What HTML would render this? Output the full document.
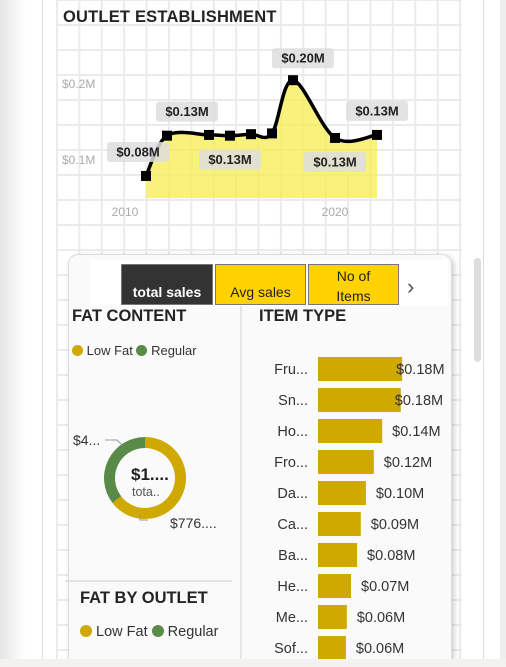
<!DOCTYPE html>
<html><head><meta charset="utf-8"><style>
html,body{margin:0;width:506px;height:667px;overflow:hidden}
body{background:#fff;font-family:"Liberation Sans",sans-serif;position:relative}
.abs{position:absolute}
.grid{left:56px;top:0;width:406px;height:667px;background-image:linear-gradient(#ebebeb 2px,transparent 2px),linear-gradient(90deg,#ebebeb 2px,transparent 2px);background-size:22.4px 25px;background-position:0 24px,0 0}
.btn{top:264px;height:41px;font-size:14px;text-align:center;box-sizing:border-box;border:1px solid #777}
</style></head><body>
<div class="abs" style="left:0;top:0;width:26px;height:667px;background:linear-gradient(90deg,#e6e6e6,#fff)"></div>
<div class="abs" style="left:42px;top:0;width:1px;height:667px;background:#ddd"></div>
<div class="abs" style="left:483px;top:0;width:1px;height:667px;background:#ddd"></div>
<div class="abs" style="left:500px;top:0;width:6px;height:667px;background:#eee"></div>
<div class="abs grid"></div>
<div class="abs" style="left:63px;top:8px;font-size:16.5px;font-weight:600;color:#252423;letter-spacing:0.2px">OUTLET ESTABLISHMENT</div>
<svg class="abs" id="line" style="left:0;top:0" width="506" height="250"></svg>

<div class="abs" style="left:474px;top:258px;width:7px;height:104px;border-radius:4px;background:#ddd"></div>

<div class="abs" style="left:68px;top:254px;width:382px;height:430px;background:#fafafa;border:1px solid #ddd;border-radius:10px;box-shadow:2px 2px 6px rgba(0,0,0,.2)"></div>
<div class="abs" style="left:90px;top:260px;width:358px;height:46px;background:#fff"></div>
<div class="abs btn" style="left:121px;width:92px;background:#333;color:#fff;font-weight:600;padding-top:19px">total sales</div>
<div class="abs btn" style="left:215px;width:91px;background:#ffd200;color:#222;padding-top:19px">Avg sales</div>
<div class="abs btn" style="left:308px;width:91px;background:#ffd200;color:#222;padding-top:1px;line-height:20px;overflow:hidden">No of<br>Items</div>
<div class="abs" style="left:407px;top:274px;font-size:22px;color:#555">&#x203A;</div>
<div class="abs" style="left:240px;top:306px;width:2px;height:361px;background:#e6e6e6"></div>
<div class="abs" style="left:65px;top:580px;width:167px;height:2px;background:#e2e2e2"></div>

<div class="abs" style="left:72px;top:307px;font-size:16.5px;font-weight:600;color:#252423">FAT CONTENT</div>
<div class="abs" style="left:72px;top:343px;font-size:13px;color:#333"><span style="display:inline-block;width:11px;height:11px;border-radius:50%;background:#d0a900;vertical-align:-1px"></span> Low Fat <span style="display:inline-block;width:11px;height:11px;border-radius:50%;background:#5a8a47;vertical-align:-1px"></span> Regular</div>
<svg class="abs" id="donut" style="left:60px;top:420px" width="180" height="120"></svg>

<div class="abs" style="left:80px;top:589px;font-size:16.5px;font-weight:600;color:#252423">FAT BY OUTLET</div>
<div class="abs" style="left:80px;top:624px;font-size:14.5px;color:#333"><span style="display:inline-block;width:12px;height:12px;border-radius:50%;background:#d0a900;vertical-align:-1px"></span> Low Fat <span style="display:inline-block;width:12px;height:12px;border-radius:50%;background:#5a8a47;vertical-align:-1px"></span> Regular</div>

<div class="abs" style="left:259px;top:307px;font-size:16.5px;font-weight:600;color:#252423">ITEM TYPE</div>
<svg class="abs" id="bars" style="left:240px;top:340px" width="215" height="327"></svg>
<div class="abs" style="left:0;top:659px;width:506px;height:8px;background:#f3f2f1"></div>

<script>
const years=[2011,2012,2014,2015,2016,2017,2018,2020,2022];
const sales=[0.079,0.132,0.133,0.132,0.134,0.135,0.205,0.129,0.133];
const labelIdx=[0,1,3,6,7,8];
const labelText=["$0.08M","$0.13M","$0.13M","$0.20M","$0.13M","$0.13M"];
const yTicks=[0.1,0.2];
const xTicks=[2010,2020];

const itemTypes=["Fru...","Sn...","Ho...","Fro...","Da...","Ca...","Ba...","He...","Me...","Sof..."];
const itemSales=[0.181,0.178,0.138,0.120,0.103,0.092,0.084,0.071,0.062,0.060];
const itemLabels=["$0.18M","$0.18M","$0.14M","$0.12M","$0.10M","$0.09M","$0.08M","$0.07M","$0.06M","$0.06M"];

const fatCats=["Low Fat","Regular"];
const fatSales=[0.776,0.425];

const NS="http://www.w3.org/2000/svg";
function mk(p,t,a){const e=document.createElementNS(NS,t);for(const k in a)e.setAttribute(k,a[k]);p.appendChild(e);return e;}

const L=document.getElementById('line');
const xs=y=>146+(y-2011)*21, ys=v=>236-v*760;
const base=198;
xTicks.forEach(t=>{const e=mk(L,'text',{x:xs(t),y:216,'text-anchor':'middle','font-size':12,fill:'#aaa'});e.textContent=t;

});
yTicks.forEach(t=>{const e=mk(L,'text',{x:62,y:ys(t)+4,'font-size':12,fill:'#aaa'});e.textContent='$'+t+'M';

});
const P=years.map((y,i)=>[xs(y),ys(sales[i])]);
let d='M'+P[0].join(',');
for(let i=0;i<P.length-1;i++){const p0=P[i-1]||P[i],p1=P[i],p2=P[i+1],p3=P[i+2]||p2;
const c1=[p1[0]+(p2[0]-p0[0])/6,p1[1]+(p2[1]-p0[1])/6],c2=[p2[0]-(p3[0]-p1[0])/6,p2[1]-(p3[1]-p1[1])/6];
d+=` C${c1} ${c2} ${p2}`;}
const area=mk(L,'path',{d:d+` L${P[P.length-1][0]},${base} L${P[0][0]},${base} Z`,fill:'rgba(245,238,80,0.75)'});


const line=mk(L,'path',{d:d,fill:'none',stroke:'#000','stroke-width':3.5});


P.forEach(p=>{const r=mk(L,'rect',{x:p[0]-5,y:p[1]-5,width:10,height:10,fill:'#000'});

});
const offs=[[-8,-24],[20,-24],[0,24],[10,-22],[0,24],[0,-24]];
labelIdx.forEach((i,k)=>{const x=P[i][0]+offs[k][0],y=P[i][1]+offs[k][1];
const g=mk(L,'g',{});


mk(g,'rect',{x:x-31,y:y-10,width:62,height:20,rx:3,fill:'rgba(222,222,222,0.85)'});
const t=mk(g,'text',{x:x,y:y+4.5,'text-anchor':'middle','font-size':13,'font-weight':600,fill:'#222'});t.textContent=labelText[k];});

const B=document.getElementById('bars');
const bx=v=>v*465;
itemTypes.forEach((c,i)=>{const cy=29+i*31;
const t=mk(B,'text',{x:68,y:cy+5,'text-anchor':'end','font-size':14.5,fill:'#333'});t.textContent=c;


const r=mk(B,'rect',{x:78,y:cy-12,width:bx(itemSales[i]),height:24,fill:'#cfa800'});


const v=mk(B,'text',{x:78+bx(itemSales[i])+(i<2?-6:10),y:cy+5,'font-size':14.5,fill:'#333'});v.textContent=itemLabels[i];

});

const D=document.getElementById('donut');
const cx=85,cy=58,ro=41,ri=30,tot=fatSales[0]+fatSales[1];
const cols=['#d0a900','#5a8a47'];let a0=0;
fatSales.forEach((v,i)=>{const a1=a0+v/tot*2*Math.PI;
const pt=(r,a)=>[cx+r*Math.sin(a),cy-r*Math.cos(a)];const lg=(a1-a0)>Math.PI?1:0;
const [x1,y1]=pt(ro,a0),[x2,y2]=pt(ro,a1),[x3,y3]=pt(ri,a1),[x4,y4]=pt(ri,a0);
const s=mk(D,'path',{d:`M${x1},${y1} A${ro},${ro} 0 ${lg} 1 ${x2},${y2} L${x3},${y3} A${ri},${ri} 0 ${lg} 0 ${x4},${y4}Z`,fill:cols[i]});


a0=a1;});
mk(D,'path',{d:'M45,20 L57,20 L62,25',fill:'none',stroke:'#999'});
mk(D,'path',{d:'M80,95 L80,100 L88,100',fill:'none',stroke:'#999'});
[['$4...',13,25,14,'#333',400],['$776....',110,108,14,'#333',400],['$1....',71,60,17,'#222',700],['tota..',72,76,12.5,'#555',400]].forEach(a=>{const t=mk(D,'text',{x:a[1],y:a[2],'font-size':a[3],fill:a[4],'font-weight':a[5]});t.textContent=a[0];

});
</script>
</body></html>
